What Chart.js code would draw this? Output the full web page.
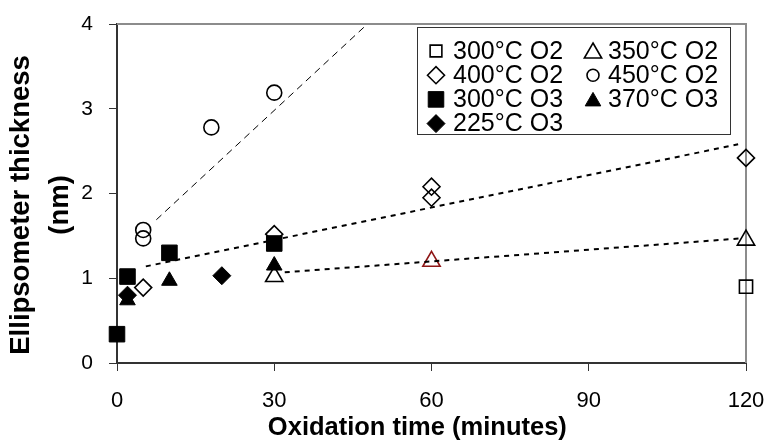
<!DOCTYPE html>
<html>
<head>
<meta charset="utf-8">
<script src="https://cdn.jsdelivr.net/npm/chart.js@4/dist/chart.umd.min.js"></script>
<style>
  body { margin: 0; background: #fff; }
  canvas { display: block; }
</style>
</head>
<body>
<canvas id="chart" width="771" height="444"></canvas>
<script>
// oxidation time (minutes) and ellipsometer thickness (nm), per run
const o2_300_t = [120];
const o2_300_y = [0.9];
const o2_350_t = [30, 60, 120];
const o2_350_y = [1.02, 1.2, 1.45];
const o2_400_t = [5, 30, 60, 60, 120];
const o2_400_y = [0.89, 1.52, 2.08, 1.95, 2.42];
const o2_450_t = [5, 5, 18, 30];
const o2_450_y = [1.57, 1.47, 2.78, 3.19];
const o3_300_t = [0, 2, 10, 30];
const o3_300_y = [0.34, 1.02, 1.3, 1.41];
const o3_370_t = [2, 10, 30];
const o3_370_y = [0.74, 0.97, 1.15];
const o3_225_t = [2, 20];
const o3_225_y = [0.8, 1.03];

// trend lines (end points)
const fit450_t = [7.5, 47.6];
const fit450_y = [1.69, 3.99];
const fit400_t = [5.5, 118.5];
const fit400_y = [1.14, 2.58];
const fit350_t = [32, 119];
const fit350_y = [1.07, 1.47];

const xTicks = [0, 30, 60, 90, 120];
const yTicks = [0, 1, 2, 3, 4];

const pts = (xs, ys) => xs.map((x, i) => ({ x: x, y: ys[i] }));

const marker = (label, xs, ys, style, radius, filled, order) => ({
  label: label,
  data: pts(xs, ys),
  pointStyle: style,
  pointRadius: radius,
  pointHoverRadius: radius,
  pointBackgroundColor: filled ? "#000" : "rgba(0,0,0,0)",
  pointBorderColor: "#000",
  pointBorderWidth: filled ? 1 : 1.6,
  showLine: false,
  clip: false,
  order: order,
});

const trend = (xs, ys, dash, width) => ({
  label: "",
  isTrend: true,
  data: pts(xs, ys),
  showLine: true,
  borderColor: "#000",
  borderWidth: width,
  borderDash: dash,
  pointRadius: 0,
  pointHoverRadius: 0,
  fill: false,
  clip: false,
  order: 0,
});

const datasets = [
  marker("300°C O2", o2_300_t, o2_300_y, "rect", 9.3, false, 2),
  marker("350°C O2", o2_350_t, o2_350_y, "triangle", 10, false, 2),
  marker("400°C O2", o2_400_t, o2_400_y, "rectRot", 8.5, false, 2),
  marker("450°C O2", o2_450_t, o2_450_y, "circle", 7.5, false, 2),
  marker("300°C O3", o3_300_t, o3_300_y, "rect", 11, true, 1),
  marker("370°C O3", o3_370_t, o3_370_y, "triangle", 9, true, 1),
  marker("225°C O3", o3_225_t, o3_225_y, "rectRot", 9, true, 1),
  trend(fit450_t, fit450_y, [7, 5], 1),
  trend(fit400_t, fit400_y, [5, 5], 2),
  trend(fit350_t, fit350_y, [5, 5], 2),
];
// the middle 350°C point is drawn in dark red
datasets[1].pointBorderColor = ["#000", "#8e1616", "#000"];

// gray frame on top and right of the plot
const framePlugin = {
  id: "frame",
  beforeDatasetsDraw(chart) {
    const { ctx, chartArea: a } = chart;
    ctx.save();
    ctx.strokeStyle = "#8c8c8c";
    ctx.lineWidth = 2;
    ctx.beginPath();
    ctx.moveTo(a.left, a.top);
    ctx.lineTo(a.right, a.top);
    ctx.lineTo(a.right, a.bottom);
    ctx.stroke();
    ctx.restore();
  },
};

// boxed legend, two columns, inside the plot
const legendPlugin = {
  id: "boxLegend",
  afterDraw(chart) {
    const ctx = chart.ctx;
    ctx.save();
    ctx.fillStyle = "#fff";
    ctx.fillRect(418, 27, 312, 107);
    ctx.strokeStyle = "#333";
    ctx.lineWidth = 1;
    ctx.strokeRect(417.5, 27.5, 313, 107);
    ctx.font = "25px 'Liberation Sans', Arial, sans-serif";
    ctx.textBaseline = "middle";
    ctx.textAlign = "left";
    let n = 0;
    chart.data.datasets.forEach((ds) => {
      if (ds.isTrend) return;
      const col = n % 2;
      const row = Math.floor(n / 2);
      const sx = 436 + col * 157;
      const tx = 453 + col * 155;
      const y = 51 + row * 24.2;
      ctx.fillStyle = ds.pointBackgroundColor;
      ctx.strokeStyle = "#000";
      ctx.lineWidth = ds.pointBorderWidth;
      let r = ds.pointRadius;
      if (ds.pointStyle === "circle") r = 6;
      if (ds.pointStyle === "rect" && r < 10) r = 8.3;
      Chart.helpers.drawPoint(ctx, {
        pointStyle: ds.pointStyle,
        radius: r,
        rotation: 0,
        borderWidth: ds.pointBorderWidth,
      }, sx, ds.pointStyle === "triangle" ? y + 2 : y);
      ctx.fillStyle = "#000";
      ctx.fillText(ds.label, tx, y + 1);
      n++;
    });
    ctx.restore();
  },
};

new Chart(document.getElementById("chart"), {
  type: "scatter",
  data: { datasets: datasets },
  plugins: [framePlugin, legendPlugin],
  options: {
    responsive: false,
    animation: false,
    layout: { padding: { top: 24, right: 25, left: 0, bottom: 0 } },
    plugins: {
      legend: { display: false },
      tooltip: { enabled: false },
    },
    scales: {
      x: {
        type: "linear",
        min: 0,
        max: 120,
        afterFit: (scale) => {
          scale.height = 81;
          scale.paddingLeft = 0;
          scale.paddingRight = 0;
        },
        afterBuildTicks: (scale) => { scale.ticks = xTicks.map((v) => ({ value: v })); },
        border: { color: "#333", width: 2 },
        grid: { drawOnChartArea: false, drawTicks: true, tickLength: 8, color: "#333", tickWidth: 1 },
        ticks: {
          color: "#000",
          padding: 17,
          maxRotation: 0,
          font: { family: "'Liberation Sans', Arial", size: 22 },
        },
        title: {
          display: true,
          // trailing spaces nudge the centred title a little to the left, as in the original
          text: "Oxidation time (minutes)    ",
          color: "#000",
          padding: { top: 0, bottom: 1 },
          font: { family: "'Liberation Sans', Arial", size: 25.5, weight: "bold", lineHeight: 1.2 },
        },
      },
      y: {
        type: "linear",
        min: 0,
        max: 4,
        afterFit: (scale) => {
          scale.width = 117;
          scale.paddingTop = 0;
          scale.paddingBottom = 0;
        },
        afterBuildTicks: (scale) => { scale.ticks = yTicks.map((v) => ({ value: v })); },
        border: { color: "#333", width: 2 },
        grid: { drawOnChartArea: false, drawTicks: true, tickLength: 8, color: "#333", tickWidth: 1 },
        ticks: {
          color: "#000",
          padding: 16,
          font: { family: "'Liberation Sans', Arial", size: 21 },
        },
        title: {
          display: true,
          text: ["Ellipsometer thickness   ", "(nm)   "],
          color: "#000",
          padding: { top: 2, bottom: 0 },
          font: { family: "'Liberation Sans', Arial", size: 27.5, weight: "bold", lineHeight: 1.42 },
        },
      },
    },
  },
});
</script>
</body>
</html>
